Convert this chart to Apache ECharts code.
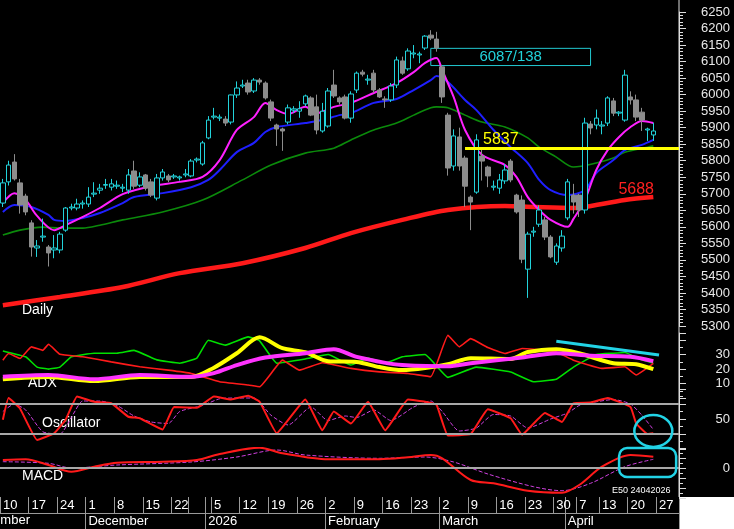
<!DOCTYPE html>
<html><head><meta charset="utf-8">
<script src="https://cdn.jsdelivr.net/npm/echarts@6/dist/echarts.min.js"></script>
<style>html,body{margin:0;padding:0;background:#000;}#c{width:734px;height:529px;}</style>
</head><body><div id="c"></div>
<script>
// ---- Categories ----
const START = '2025-11-10', END = '2026-04-30';
const HOLIDAYS = ['2025-12-25','2025-12-26','2026-01-01','2026-04-03','2026-04-06'];
const SKIP_WEEK_LABEL = ['2025-12-29'];
const MONTH_NAMES = {'2025-12':'December','2026-01':'2026','2026-02':'February','2026-03':'March','2026-04':'April'};

// ---- Candles [open, close, low, high] ----
const candles = [
[5672,5733,5660,5745],[5736,5787,5725,5800],[5796,5745,5740,5820],[5733,5666,5640,5745],[5693,5645,5635,5700],
[5612,5539,5510,5620],[5536,5542,5509,5560],[5569,5572,5555,5625],[5539,5521,5480,5545],[5530,5536,5505,5575],
[5530,5578,5520,5585],[5590,5657,5585,5660],[5657,5660,5650,5670],[5657,5669,5650,5685],[5669,5672,5655,5680],
[5669,5690,5660,5720],[5699,5702,5690,5735],[5711,5717,5700,5730],[5726,5728,5715,5745],[5720,5730,5710,5745],
[5723,5726,5715,5740],[5717,5720,5705,5730],[5711,5757,5700,5775],[5769,5723,5715,5800],[5726,5751,5720,5765],
[5757,5717,5710,5760],[5736,5696,5690,5745],[5687,5748,5680,5760],[5748,5766,5740,5775],[5754,5742,5735,5760],
[5751,5754,5745,5760],[5748,5751,5740,5755],[5757,5760,5750,5775],[5754,5799,5750,5805],[5802,5805,5795,5810],
[5790,5854,5785,5860],[5869,5923,5865,5935],[5932,5935,5925,5960],[5929,5932,5920,5940],[5926,5914,5905,5935],
[5917,5999,5910,6000],[5999,6020,5990,6040],[6026,6029,6020,6045],[6035,6008,6000,6045],[6011,6044,6005,6050],
[6044,6038,6030,6050],[6035,5990,5985,6040],[5978,5929,5920,5985],[5908,5896,5845,5912],[5896,5890,5830,5900],
[5917,5960,5910,5970],[5953,5957,5945,5965],[5950,5957,5930,5980],[5972,5996,5965,6000],[5990,5938,5935,5995],
[5963,5893,5880,6000],[5890,5950,5885,5975],[5905,6011,5900,6020],[6029,5996,5990,6075],[5990,5978,5970,5995],
[5993,5929,5925,6000],[5929,6002,5915,6010],[6014,6065,6005,6070],[6068,6062,6055,6075],[6044,6047,6030,6060],
[6065,6014,6005,6075],[6014,5993,5990,6020],[5987,5984,5960,5995],[5984,6026,5978,6035],[6029,6105,6020,6115],
[6102,6065,6060,6115],[6078,6132,6072,6140],[6123,6126,6110,6150],[6120,6123,6095,6130],[6141,6177,6135,6180],
[6180,6171,6165,6195],[6168,6141,6130,6190],[6084,5993,5975,6090],[5938,5778,5755,5945],[5784,5875,5770,5895],
[5872,5784,5770,5900],[5808,5723,5660,5815],[5690,5675,5590,5695],[5705,5863,5700,5880],[5814,5799,5740,5840],
[5781,5754,5720,5785],[5720,5723,5710,5740],[5717,5742,5700,5760],[5739,5772,5730,5790],[5799,5742,5735,5805],
[5696,5645,5640,5700],[5681,5502,5490,5695],[5472,5578,5385,5585],[5584,5587,5570,5600],[5608,5651,5600,5665],
[5621,5569,5560,5630],[5569,5509,5505,5575],[5493,5542,5485,5550],[5536,5572,5525,5590],[5627,5736,5620,5745],
[5696,5675,5640,5730],[5696,5651,5630,5700],[5651,5914,5640,5930],[5911,5899,5880,5920],[5908,5929,5895,5955],
[5905,5908,5880,5920],[5914,5990,5905,5995],[5981,5944,5935,5990],[5944,5947,5935,5950],[5923,6059,5918,6075],
[5993,5984,5970,6010],[5984,5932,5920,6000],[5947,5923,5890,5960],[5893,5896,5860,5900],[5878,5890,5860,5915]
];

// ---- Moving averages [dayIndex, value] ----
const maPink = [[0,5672],[2,5702],[4,5681],[6,5633],[9,5590],[11,5605],[14,5630],[17,5657],[21,5699],[26,5723],[31,5736],[35,5751],[38,5802],[41,5893],[44,5932],[46,5975],[48,5953],[50,5941],[53,5963],[55,5944],[58,5963],[61,5975],[65,6005],[69,6035],[72,6068],[74,6096],[76,6111],[77,6074],[79,5993],[81,5893],[84,5817],[88,5787],[90,5751],[92,5690],[94,5651],[96,5621],[99,5600],[100,5624],[102,5681],[104,5772],[106,5832],[108,5872],[110,5902],[112,5920],[114,5914]];
const maBlue = [[0,5645],[2,5666],[5,5660],[8,5636],[9,5621],[11,5618],[14,5627],[17,5642],[21,5672],[23,5690],[28,5702],[33,5720],[36,5742],[38,5772],[41,5826],[44,5854],[46,5887],[48,5902],[53,5914],[56,5923],[59,5938],[61,5944],[65,5975],[69,5987],[72,6014],[75,6044],[76,6056],[78,6038],[81,5984],[83,5953],[86,5893],[89,5841],[92,5793],[94,5742],[96,5711],[99,5696],[102,5711],[104,5763],[107,5802],[109,5832],[112,5848],[114,5863]];
const maGreen = [[0,5575],[3,5590],[7,5599],[10,5596],[14,5596],[17,5605],[21,5621],[28,5645],[35,5681],[42,5742],[47,5787],[53,5823],[58,5838],[61,5863],[65,5893],[69,5914],[72,5938],[75,5960],[76,5963],[78,5960],[81,5938],[84,5917],[88,5902],[92,5869],[94,5841],[97,5811],[100,5781],[104,5793],[107,5808],[109,5826],[113,5841],[114,5845]];
const maRed = [[0,5363],[10,5388],[21,5418],[31,5460],[42,5490],[53,5536],[61,5581],[70,5621],[78,5651],[88,5663],[93,5660],[100,5657],[102,5660],[109,5681],[114,5690]];

// ---- ADX panel ----
const diPlus = [[0,32.6],[4,28.5],[6,21.4],[8,20],[10,21.4],[12,28.5],[16,31],[20,31],[23,33],[27,26.4],[31,24.1],[34,27.6],[36,40],[39,36.6],[43,42.3],[45,39.6],[48,24.1],[53,27],[57,30.1],[61,22.8],[64,27.6],[67,24.1],[70,28.5],[74,30.1],[78,14.3],[83,21.4],[89,18],[93,11.3],[97,13],[100,21.4],[104,30.1],[107,31],[109,31.5],[112,26.4],[114,24]];
const diMinus = [[0,26.2],[1,30.8],[3,27.4],[5,35.4],[7,33],[8,37.2],[10,30.3],[14,28.5],[19,25],[24,21.6],[29,19.3],[33,17],[38,11.3],[43,9],[45,7.8],[49,26.2],[52,19.3],[56,24.4],[61,20.5],[66,18.1],[71,17],[75,14.8],[78,43.4],[80,35.4],[82,41.1],[85,34.9],[88,30.8],[91,34.3],[95,33.1],[97,31.9],[100,26.2],[105,20.5],[109,21.6],[111,15.9],[114,23.9]];
const adxYellow = [[0,13],[8,14.5],[16,11.7],[24,14.5],[33,14.5],[37,21],[41,31],[45,42],[49,34.5],[53,31.7],[57,25.5],[62,25],[66,21.4],[70,19.3],[74,20.7],[78,23.4],[82,27.6],[89,27],[92,31.8],[97,33.8],[101,31],[107,24.1],[111,23.4],[114,20]];
const adxMagenta = [[0,14.7],[8,15.9],[16,13],[24,15.9],[33,14.7],[37,17.2],[41,22.8],[46,28],[53,31],[58,33.8],[62,28.5],[70,22.8],[78,22],[82,24.1],[91,28],[97,31],[103,29.3],[110,28.5],[114,25.5]];

// ---- Oscillator ----
const oscLine = [[0,49],[1,78],[3,64],[6,22],[9,31],[11,49],[13,80],[16,73],[19,71],[22,53],[24,51],[28,36],[30,66],[34,65],[37,80],[40,76],[43,81],[45,73],[48,31],[53,76],[56,35],[58,60],[61,44],[64,73],[67,35],[71,76],[74,73],[76,69],[78,28],[82,30],[85,63],[89,51],[91,29],[95,58],[98,46],[100,71],[103,72],[106,78],[110,66],[111,44],[113,30],[114,31]];
const oscSignal = [[0,60],[2,70],[4,62],[7,33],[10,30],[12,52],[14,74],[17,74],[20,68],[23,54],[26,46],[29,44],[31,60],[35,68],[38,77],[41,78],[44,78],[47,55],[50,42],[54,66],[57,48],[60,54],[62,52],[65,62],[68,48],[72,66],[75,74],[77,60],[80,34],[83,38],[86,56],[89,54],[92,38],[96,50],[99,58],[101,68],[104,73],[107,76],[110,70],[112,55],[114,36]];

// ---- MACD ----
const macdLine = [[0,8],[4,8.7],[8,3],[12,-3.7],[16,1.3],[20,5.3],[28,6.3],[34,8],[38,14],[45,20.3],[49,14.7],[57,8.7],[66,8.7],[71,10.7],[75,13],[77,9.7],[82,-12],[86,-15.3],[92,-22.7],[98,-24.7],[101,-17],[105,1.3],[110,13],[114,11.3]];
const macdSignal = [[0,6.3],[8,4.7],[12,0],[20,3],[33,6],[41,11],[48,18],[53,13],[66,9.7],[74,11],[79,6],[85,-6],[93,-18.7],[98,-22.7],[103,-15.3],[109,1.3],[114,8.7]];

// ---- Annotations ----
const LEVEL = 5837, LEVEL_FROM = 81;
const MA200_LABEL = '5688';
const BOX_TEXT = '6087/138', BOX = {x0:75, x1:103, top:6140, bottom:6088};
const TREND = [[97,39.3],[115,29.7]];

// build categories
const days=[];
(function(){const d=new Date(START+'T12:00:00Z'),e=new Date(END+'T12:00:00Z');
 while(d<=e){const w=d.getUTCDay();const s=d.toISOString().slice(0,10);
  if(w!==0&&w!==6&&HOLIDAYS.indexOf(s)<0)days.push(s);d.setUTCDate(d.getUTCDate()+1);}})();
function weekKey(s){const d=new Date(s+'T12:00:00Z');const w=(d.getUTCDay()+6)%7;d.setUTCDate(d.getUTCDate()-w);return d.toISOString().slice(0,10);}
const isWeekStart=days.map((s,i)=>i===0||weekKey(s)!==weekKey(days[i-1]));
const isMonthStart=days.map((s,i)=>i>0&&s.slice(0,7)!==days[i-1].slice(0,7));

const F='Liberation Sans';
const chart=echarts.init(document.getElementById('c'));
const grids=[
 {left:0,right:55,top:12,height:314},
 {left:0,right:55,top:333,height:65},
 {left:0,right:55,top:389,height:60},
 {left:0,right:55,top:448,height:50},
 {left:0,right:55,top:497,height:16},
 {left:0,right:55,top:513,height:16}
];
function hiddenX(g,extra){return Object.assign({type:'category',gridIndex:g,data:days,boundaryGap:true,
 axisLine:{show:false},axisTick:{show:false},axisLabel:{show:false},splitLine:{show:false}},extra||{});}
const xAxes=[hiddenX(0),hiddenX(1),hiddenX(2),hiddenX(3,{axisLine:{show:true,lineStyle:{color:'#9a9a9a',width:1}}}),
 hiddenX(4,{axisLine:{show:true,lineStyle:{color:'#9a9a9a'}},
   splitLine:{show:true,interval:(i)=>isWeekStart[i]||isMonthStart[i],lineStyle:{color:'#9a9a9a',width:1}},
   axisLabel:{show:true,inside:true,margin:1,color:'#fff',fontFamily:F,fontSize:13,align:'left',
     interval:(i,v)=>isWeekStart[i]&&SKIP_WEEK_LABEL.indexOf(v)<0,
     formatter:(v)=>String(parseInt(v.slice(8),10))}}),
 hiddenX(5,{splitLine:{show:true,interval:(i)=>isMonthStart[i],lineStyle:{color:'#9a9a9a',width:1}},
   axisLabel:{show:true,inside:true,margin:1,color:'#fff',fontFamily:F,fontSize:13,align:'left',
     interval:(i)=>isMonthStart[i],formatter:(v)=>MONTH_NAMES[v.slice(0,7)]||''}})
];
function rightY(g,min,max,interval,fmt){return {type:'value',gridIndex:g,position:'right',min:min,max:max,interval:interval,
 axisLine:{show:true,lineStyle:{color:'#ddd'}},axisTick:{show:true,length:7,lineStyle:{color:'#ddd'}},
 minorTick:{show:true,splitNumber:g===0?5:2,length:4,lineStyle:{color:'#ddd'}},splitLine:{show:false},
 axisLabel:{show:true,margin:51,align:'right',color:'#e8e8e8',fontFamily:F,fontSize:13,formatter:fmt}};}
const yAxes=[
 rightY(0,5300,6250,50,(v)=>String(v)),
 rightY(1,0,45,10,(v)=>(v>=10&&v<=30)?String(v):''),
 rightY(2,10,90,20,(v)=>v===50?'50':''),
 rightY(3,-30,20,10,(v)=>v===0?'0':''),
 {type:'value',gridIndex:4,show:false},{type:'value',gridIndex:5,show:false}
];
function line(name,data,xi,color,width,extra){return Object.assign({name:name,type:'line',xAxisIndex:xi,yAxisIndex:xi,data:data,
 showSymbol:false,symbol:'none',smooth:0.3,silent:true,lineStyle:{color:color,width:width},z:3},extra||{});}
const grayH=(v)=>({silent:true,symbol:'none',label:{show:false},lineStyle:{color:'#a8a8a8',width:2,type:'solid'},data:[{yAxis:v}]});

const series=[
 line('ma200',maRed,0,'#ff1a1a',4.5,{markPoint:{symbol:'circle',symbolSize:0,data:[{coord:[111,5712],label:{show:true,formatter:MA200_LABEL,color:'#ff2020',fontSize:16,fontFamily:F}}]}}),
 line('ma50',maGreen,0,'#0b8a0b',1.6),
 line('ma20',maBlue,0,'#1f1fff',2),
 line('ma10',maPink,0,'#ff20ff',2),
 {type:'candlestick',xAxisIndex:0,yAxisIndex:0,data:candles,barWidth:5,silent:true,z:4,
  itemStyle:{color:'#000',color0:'#8c8c8c',borderColor:'#22d3db',borderColor0:'#8c8c8c',borderWidth:1},
  markLine:{silent:true,symbol:'none',z:6,lineStyle:{color:'#ffff00',width:3,type:'solid'},
   label:{show:true,position:'insideStartTop',formatter:String(LEVEL),color:'#ffff00',fontSize:16,fontFamily:F,distance:[18,1]},
   data:[[{coord:[LEVEL_FROM,LEVEL]},{coord:[days.length-1,LEVEL],x:679}]]},
  markArea:{silent:true,itemStyle:{color:'rgba(0,0,0,0)',borderColor:'#22c8d0',borderWidth:1},
   label:{show:true,position:'inside',formatter:BOX_TEXT,color:'#22d3db',fontSize:15,fontFamily:F},
   data:[[{coord:[BOX.x0,BOX.top]},{coord:[BOX.x1,BOX.bottom]}]]}},
 line('diPlus',diPlus,1,'#00e000',1.6,{smooth:0.1}),
 line('diMinus',diMinus,1,'#ff1a1a',1.6,{smooth:0.1}),
 line('adx',adxYellow,1,'#ffff00',4),
 line('adxr',adxMagenta,1,'#ff33ff',4,{markLine:{silent:true,symbol:'none',label:{show:false},lineStyle:{color:'#22d3e6',width:3,type:'solid'},
   data:[[{coord:TREND[0]},{coord:TREND[1]}]]}}),
 line('oscSig',oscSignal,2,'#d040e0',1,{lineStyle:{color:'#d040e0',width:1,type:'dashed'},smooth:0.2}),
 line('osc',oscLine,2,'#ff1a1a',2,{smooth:0.1,markLine:{silent:true,symbol:'none',label:{show:false},lineStyle:{color:'#a8a8a8',width:2,type:'solid'},data:[{yAxis:70},{yAxis:30}]}}),
 line('macdSig',macdSignal,3,'#d040e0',1,{lineStyle:{color:'#d040e0',width:1,type:'dashed'}}),
 line('macd',macdLine,3,'#ff1a1a',2,{markLine:grayH(0)})
];

chart.setOption({backgroundColor:'#000',animation:false,grid:grids,xAxis:xAxes,yAxis:yAxes,series:series});

const p=(g,pt)=>chart.convertToPixel({gridIndex:g},pt);
const c1=p(2,[113.7,34]);
const r0=p(3,[108.4,20]), r1=p(3,[117.9,-9]);
const T=(t,x,y,size)=>({type:'text',left:x,top:y,silent:true,style:{text:t,fill:'#fff',font:(size||14)+'px "'+F+'"'}});
chart.setOption({graphic:[
 {type:'line',silent:true,shape:{x1:679,y1:0,x2:679,y2:497},style:{stroke:'#ddd',lineWidth:1}},
 {type:'rect',silent:true,shape:{x:680,y:497,width:54,height:32},style:{fill:'#fff'}},
 T('Daily',22,303),T('ADX',28,376),T('Oscillator',42,416),T('MACD',22,469),
 T('E50 24042026',612,486,9),
 T('November',-30,514,13),
 {type:'ellipse',silent:true,shape:{cx:c1[0],cy:c1[1],rx:19,ry:16},style:{fill:'none',stroke:'#22d3e6',lineWidth:2.5},z:10},
 {type:'rect',silent:true,shape:{x:r0[0],y:r0[1],width:r1[0]-r0[0],height:r1[1]-r0[1],r:8},style:{fill:'none',stroke:'#22d3e6',lineWidth:2.5},z:10}
]});
</script></body></html>
